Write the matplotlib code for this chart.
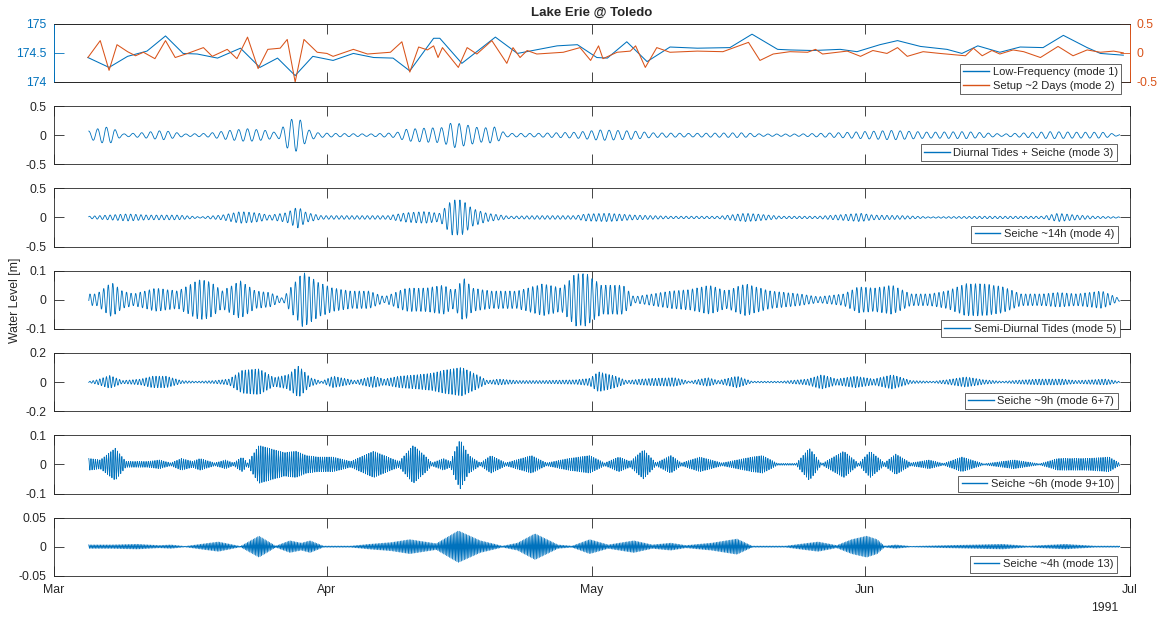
import numpy as np
import matplotlib
matplotlib.use("Agg")
import matplotlib.pyplot as plt

plt.rcParams['font.family'] = ['Liberation Sans', 'DejaVu Sans']
plt.rcParams['axes.unicode_minus'] = False

# ---------------- data (days after 1991-03-01) ----------------
START = np.datetime64('1991-03-01T00:00')
MONTH_TICKS = ['1991-03-01', '1991-04-01', '1991-05-01', '1991-06-01', '1991-07-01']
MONTH_LABELS = ['Mar', 'Apr', 'May', 'Jun', 'Jul']
YEAR_LABEL = '1991'

# Panel 1: low-frequency water level (left axis, m)
lf_days = [3.9, 6.3, 8.4, 10.6, 12.7, 14.7, 16.3, 18.6, 21.2, 23.4, 25.4, 27.4, 29.4, 31.7,
           34.0, 36.3, 38.5, 40.4, 43.1, 43.8, 46.3, 50.1, 52.6, 57.1, 59.4, 61.6, 62.8, 65.0,
           67.3, 69.9, 73.0, 76.7, 79.2, 82.1, 83.5, 86.1, 89.2, 91.1, 93.7, 95.7, 98.3, 101.3,
           103.0, 104.8, 107.3, 109.6, 112.2, 114.5, 117.2, 118.7, 121.3]
lf_vals = [174.42, 174.25, 174.44, 174.53, 174.79, 174.49, 174.48, 174.41, 174.58, 174.25,
           174.41, 174.11, 174.44, 174.37, 174.49, 174.42, 174.41, 174.19, 174.75, 174.75,
           174.32, 174.77, 174.49, 174.62, 174.64, 174.42, 174.41, 174.69, 174.35, 174.60,
           174.58, 174.59, 174.82, 174.56, 174.55, 174.54, 174.56, 174.52, 174.64, 174.71,
           174.61, 174.56, 174.49, 174.62, 174.51, 174.60, 174.59, 174.80, 174.59, 174.49,
           174.46]

# Panel 1: setup ~2 days (right axis, m)
setup_days = [3.9, 5.3, 6.3, 7.2, 8.4, 9.3, 10.2, 11.5, 12.7, 13.8, 15.2, 17.0, 18.0, 19.7,
              20.8, 22.0, 23.2, 24.3, 25.7, 26.5, 27.4, 28.4, 29.9, 31.0, 31.7, 34.0, 35.6,
              38.2, 39.5, 40.4, 41.4, 42.4, 43.1, 43.6, 44.1, 45.9, 46.9, 48.0, 49.7, 51.4,
              52.1, 52.9, 53.7, 54.8, 57.8, 59.7, 60.9, 61.8, 62.3, 63.9, 65.4, 66.0, 67.1,
              68.4, 69.9, 73.0, 75.9, 78.8, 80.1, 81.6, 83.5, 85.5, 86.4, 87.2, 90.0, 91.5,
              92.9, 94.5, 95.7, 96.8, 98.6, 100.5, 103.4, 104.3, 105.3, 106.4, 107.3, 108.8,
              110.0, 111.9, 113.9, 115.6, 117.2, 118.7, 120.2, 121.3]
setup_vals = [-0.08, 0.21, -0.30, 0.14, 0.02, -0.05, 0.01, -0.10, 0.21, -0.08, -0.01, 0.09,
              -0.06, 0.06, -0.10, 0.27, -0.27, 0.06, 0.08, 0.23, -0.50, 0.23, 0.01, -0.01,
              -0.06, 0.06, -0.02, 0.01, 0.19, -0.33, 0.10, 0.05, 0.12, -0.08, 0.09, -0.25,
              0.09, -0.02, 0.21, -0.18, 0.09, -0.08, 0.04, -0.02, 0.01, 0.09, -0.13, 0.12,
              -0.10, 0.01, 0.03, 0.12, -0.25, 0.09, 0.01, 0.03, 0.02, 0.18, -0.13, -0.02,
              0.02, 0.01, 0.06, -0.02, 0.03, -0.06, 0.04, -0.01, 0.09, -0.06, 0.02, -0.01,
              -0.05, 0.08, -0.05, 0.04, -0.02, 0.05, 0.02, -0.08, 0.11, -0.05, 0.05, 0.01,
              0.03, 0.00]

m3_days = [4.1, 5.7, 6.6, 7.8, 9.9, 12.4, 14.9, 17.4, 19.9, 22.0, 24.1, 25.4, 26.8, 27.9,
           28.7, 30.0, 31.7, 35.8, 38.8, 40.0, 42.1, 44.2, 45.2, 46.7, 48.4, 50.0, 51.3,
           54.6, 59.2, 62.1, 65.8, 67.9, 72.1, 77.9, 80.4, 84.6, 88.8, 91.7, 95.1, 99.3,
           103.4, 107.6, 113.1, 116.0, 118.9, 120.8]
m3_amp = [0.07, 0.14, 0.13, 0.02, 0.04, 0.08, 0.02, 0.03, 0.08, 0.11, 0.08, 0.04, 0.27,
          0.28, 0.10, 0.04, 0.03, 0.02, 0.04, 0.10, 0.12, 0.13, 0.22, 0.18, 0.12, 0.14, 0.03,
          0.03, 0.05, 0.09, 0.07, 0.04, 0.03, 0.04, 0.02, 0.02, 0.04, 0.06, 0.08, 0.05,
          0.06, 0.02, 0.06, 0.05, 0.05, 0.01]

m4_days = [4.1, 6.2, 8.4, 10.7, 14.1, 16.6, 19.1, 21.2, 22.9, 24.5, 26.4, 27.7, 28.7, 30.4,
           33.7, 37.9, 40.0, 42.1, 43.8, 45.2, 46.3, 47.5, 49.2, 51.7, 54.6, 59.2, 60.4,
           62.9, 65.8, 70.0, 75.4, 78.4, 79.6, 82.5, 86.7, 91.5, 93.0, 96.3, 99.3, 105.5,
           109.7, 112.2, 113.9, 116.0, 118.1, 120.8]
m4_amp = [0.02, 0.04, 0.06, 0.04, 0.04, 0.01, 0.04, 0.10, 0.08, 0.04, 0.08, 0.18, 0.08,
          0.03, 0.03, 0.03, 0.08, 0.10, 0.07, 0.30, 0.30, 0.15, 0.07, 0.02, 0.03, 0.03,
          0.06, 0.07, 0.04, 0.02, 0.02, 0.07, 0.06, 0.02, 0.02, 0.07, 0.04, 0.03, 0.01,
          0.02, 0.02, 0.02, 0.07, 0.04, 0.02, 0.01]

m5_days = [4.1, 4.9, 6.6, 7.8, 9.1, 11.6, 14.1, 16.6, 17.9, 19.1, 21.2, 22.9, 24.5, 26.0,
           27.1, 28.3, 30.0, 31.7, 33.7, 35.8, 37.5, 40.0, 42.1, 44.2, 45.4, 46.5, 47.5,
           49.6, 52.6, 55.5, 57.6, 59.2, 60.4, 62.1, 64.6, 65.8, 67.9, 70.0, 72.1, 74.4,
           76.3, 78.4, 81.3, 84.6, 86.7, 89.6, 91.3, 93.0, 95.1, 97.2, 99.3, 101.3, 103.4,
           105.5, 107.6, 109.7, 112.2, 113.9, 116.0, 118.9, 120.8]
m5_amp = [0.02, 0.02, 0.06, 0.03, 0.02, 0.04, 0.03, 0.07, 0.06, 0.03, 0.065, 0.03, 0.025,
          0.005, 0.05, 0.095, 0.06, 0.04, 0.03, 0.03, 0.01, 0.04, 0.04, 0.05, 0.03, 0.075,
          0.04, 0.03, 0.03, 0.055, 0.04, 0.09, 0.09, 0.05, 0.05, 0.01, 0.02, 0.03, 0.035,
          0.05, 0.03, 0.055, 0.03, 0.02, 0.01, 0.02, 0.045, 0.04, 0.05, 0.02, 0.02, 0.03,
          0.055, 0.055, 0.045, 0.02, 0.02, 0.025, 0.02, 0.03, 0.005]

m67_days = [4.1, 4.9, 6.4, 7.8, 9.9, 11.2, 12.8, 14.5, 16.2, 18.3, 19.9, 21.4, 23.3, 25.0,
            26.6, 27.8, 29.1, 30.4, 31.7, 34.2, 36.3, 37.5, 39.2, 41.3, 42.9, 44.2, 46.3,
            48.0, 49.2, 50.5, 52.6, 55.5, 59.2, 60.8, 61.8, 63.7, 65.0, 66.6, 67.9, 70.4,
            72.1, 74.2, 75.4, 77.5, 79.2, 82.5, 85.5, 87.1, 88.8, 90.9, 93.0, 95.1, 97.2,
            99.7, 101.3, 103.4, 105.5, 107.6, 110.1, 111.8, 114.3, 116.0, 119.3, 120.8]
m67_amp = [0.005, 0.015, 0.045, 0.01, 0.02, 0.04, 0.04, 0.01, 0.005, 0.01, 0.02, 0.08, 0.09,
           0.03, 0.05, 0.11, 0.03, 0.005, 0.04, 0.01, 0.04, 0.02, 0.04, 0.05, 0.06, 0.08,
           0.10, 0.05, 0.01, 0.02, 0.01, 0.01, 0.015, 0.025, 0.07, 0.04, 0.01, 0.02, 0.025,
           0.03, 0.005, 0.03, 0.01, 0.04, 0.005, 0.005, 0.02, 0.05, 0.02, 0.04, 0.02, 0.05,
           0.01, 0.005, 0.015, 0.035, 0.015, 0.005, 0.015, 0.02, 0.02, 0.01, 0.02, 0.005]

m910_days = [4.1, 5.3, 7.0, 8.2, 10.7, 12.0, 13.3, 14.5, 15.8, 16.6, 18.3, 19.5, 20.4, 21.4,
             22.0, 23.3, 25.0, 26.2, 27.5, 28.7, 30.0, 31.7, 33.7, 36.3, 38.3, 39.2, 40.8,
             42.1, 42.9, 44.2, 45.0, 46.1, 47.1, 48.4, 49.6, 51.3, 54.2, 55.9, 58.4, 60.8,
             62.5, 64.1, 65.4, 66.9, 68.3, 70.0, 71.2, 73.3, 75.8, 79.2, 80.4, 82.1, 84.2,
             85.7, 87.1, 89.6, 91.3, 92.6, 94.2, 95.5, 97.2, 99.3, 100.9, 103.0, 105.5,
             108.9, 111.8, 113.9, 117.2, 119.7, 120.8]
m910_amp = [0.02, 0.015, 0.055, 0.01, 0.01, 0.015, 0.005, 0.02, 0.01, 0.02, 0.005, 0.015,
            0.005, 0.025, 0.005, 0.065, 0.05, 0.04, 0.045, 0.03, 0.025, 0.025, 0.01, 0.045,
            0.02, 0.01, 0.065, 0.03, 0.005, 0.02, 0.01, 0.085, 0.03, 0.005, 0.03, 0.005,
            0.03, 0.005, 0.02, 0.03, 0.005, 0.025, 0.01, 0.05, 0.005, 0.03, 0.005, 0.025,
            0.005, 0.025, 0.03, 0.003, 0.003, 0.055, 0.002, 0.045, 0.003, 0.045, 0.005,
            0.035, 0.005, 0.015, 0.003, 0.025, 0.002, 0.015, 0.002, 0.02, 0.02, 0.025, 0.005]

m13_days = [4.1, 6.6, 9.5, 12.0, 13.3, 14.9, 18.7, 21.2, 23.3, 25.2, 26.8, 28.1, 29.1, 30.6,
            33.7, 35.8, 38.3, 40.4, 43.4, 45.9, 48.4, 50.9, 52.6, 54.6, 57.2, 58.8, 60.8,
            62.9, 65.8, 67.9, 70.0, 71.7, 74.6, 77.5, 79.2, 83.0, 86.7, 88.8, 90.5, 92.2,
            93.4, 94.2, 95.5, 97.2, 101.3, 107.6, 110.5, 114.7, 118.1, 120.6]
m13_amp = [0.003, 0.003, 0.004, 0.002, 0.003, 0.0005, 0.008, 0.0005, 0.018, 0.001, 0.01,
           0.006, 0.01, 0.001, 0.001, 0.004, 0.007, 0.012, 0.005, 0.027, 0.01, 0.001, 0.006,
           0.022, 0.003, 0.001, 0.012, 0.003, 0.01, 0.003, 0.006, 0.002, 0.006, 0.013, 0.001,
           0.001, 0.008, 0.002, 0.012, 0.018, 0.012, 0.001, 0.003, 0.0005, 0.002, 0.004,
           0.001, 0.004, 0.001, 0.001]

MODES = [
    ('Diurnal Tides + Seiche (mode 3)', m3_days, m3_amp, 24.0, 0.5, ['0.5', '0', '-0.5']),
    ('Seiche ~14h (mode 4)', m4_days, m4_amp, 14.0, 0.5, ['0.5', '0', '-0.5']),
    ('Semi-Diurnal Tides (mode 5)', m5_days, m5_amp, 12.42, 0.1, ['0.1', '0', '-0.1']),
    ('Seiche ~9h (mode 6+7)', m67_days, m67_amp, 9.0, 0.2, ['0.2', '0', '-0.2']),
    ('Seiche ~6h (mode 9+10)', m910_days, m910_amp, 6.0, 0.1, ['0.1', '0', '-0.1']),
    ('Seiche ~4h (mode 13)', m13_days, m13_amp, 4.0, 0.05, ['0.05', '0', '-0.05']),
]
# legend offsets in px: (inside from right, above bottom)
LEG_POS = [(8.5, -12), (12.5, 3.4), (11.8, 4), (10, -8), (11.8, 2), (11.8, 1.3), (12.5, 3.3)]

# ---------------- helpers ----------------
BLUE = '#0072BD'
ORANGE = '#D95319'
AXC = '#262626'
TICK_FS = 8.8
LEG_FS = 8
FIG_W, FIG_H = 1160, 617
AX_L, AX_W = 53.5, 1076.0
AX_T0, AX_H, AX_P = 23.7, 58.3, 82.3


def to_dt(days):
    return START + (np.asarray(days, dtype=float) * 86400).astype('timedelta64[s]')


def style(ax, right=True, bottom_labels=False):
    for s in ax.spines.values():
        s.set_color(AXC)
        s.set_linewidth(0.6)
    ax.set_xlim(np.datetime64(MONTH_TICKS[0]), np.datetime64(MONTH_TICKS[-1]))
    ax.set_xticks([np.datetime64(m) for m in MONTH_TICKS])
    if bottom_labels:
        ax.set_xticklabels(MONTH_LABELS)
    else:
        ax.set_xticklabels([])
    ax.tick_params(axis='x', direction='in', length=7, width=0.6, colors=AXC,
                   labelsize=TICK_FS, top=True, bottom=True, pad=6)
    ax.tick_params(axis='y', direction='in', length=7, width=0.6, colors=AXC,
                   labelsize=TICK_FS, left=True, right=right, pad=5)


def legend(ax, handles, labels, pos):
    r, b = pos
    leg = ax.legend(handles, labels, loc='lower right',
                    bbox_to_anchor=(1 - r / AX_W, b / AX_H), borderaxespad=0,
                    fontsize=LEG_FS, frameon=True, fancybox=False, framealpha=1,
                    edgecolor=AXC, borderpad=0.3, handlelength=2.3,
                    handletextpad=0.35, labelspacing=0.3)
    leg.get_frame().set_linewidth(0.5)
    for t in leg.get_texts():
        t.set_color(AXC)
    for ln in leg.get_lines():
        ln.set_linewidth(1.0)
    return leg


fig = plt.figure(figsize=(FIG_W / 100, FIG_H / 100), dpi=100)
axes = []
for i in range(7):
    top = AX_T0 + AX_P * i
    ax = fig.add_axes([AX_L / FIG_W, 1 - (top + AX_H) / FIG_H, AX_W / FIG_W, AX_H / FIG_H])
    axes.append(ax)

# ---- panel 1 ----
ax = axes[0]
ax2 = ax.twinx()
l1, = ax.plot(to_dt(lf_days), lf_vals, color=BLUE, lw=0.75)
l2, = ax2.plot(to_dt(setup_days), setup_vals, color=ORANGE, lw=0.75)
style(ax, right=False)
style(ax2, right=True)
ax2.tick_params(axis='y', left=False)
ax.set_ylim(174, 175)
ax.set_yticks([174, 174.5, 175])
ax.set_yticklabels(['174', '174.5', '175'])
ax2.set_ylim(-0.5, 0.5)
ax2.set_yticks([-0.5, 0, 0.5])
ax2.set_yticklabels(['-0.5', '0', '0.5'])
for a in (ax, ax2):
    a.spines['left'].set_color(BLUE)
    a.spines['right'].set_color(ORANGE)
ax.tick_params(axis='y', colors=BLUE)
ax2.tick_params(axis='y', colors=ORANGE)
legend(ax2, [l1, l2], ['Low-Frequency (mode 1)', 'Setup ~2 Days (mode 2)'], LEG_POS[0])

# ---- oscillating panels ----
t_hours = np.arange(4.0 * 24, 120.9 * 24, 1.0)
t_days = t_hours / 24.0
for k, (label, d, a, period, lim, ylabels) in enumerate(MODES):
    ax = axes[k + 1]
    env = np.interp(t_days, d, a)
    sig = env * np.cos(2 * np.pi * t_hours / period)
    ln, = ax.plot(to_dt(t_days), sig, color=BLUE, lw=0.6)
    style(ax, right=True, bottom_labels=(k == len(MODES) - 1))
    ax.set_ylim(-lim, lim)
    ax.set_yticks([lim, 0, -lim])
    ax.set_yticklabels(ylabels)
    legend(ax, [ln], [label], LEG_POS[k + 1])

axes[-1].text(1 - 11.5 / AX_W, -(608 - (AX_T0 + 6 * AX_P + AX_H)) / AX_H, YEAR_LABEL,
              transform=axes[-1].transAxes, ha='right', va='center', fontsize=TICK_FS,
              color=AXC)

fig.text(15 / FIG_W, 1 - 300 / FIG_H, 'Water Level [m]', rotation=90, ha='center',
         va='center', fontsize=TICK_FS, color=AXC)
fig.text((AX_L + AX_W / 2) / FIG_W, 1 - 13 / FIG_H, 'Lake Erie @ Toledo', ha='center',
         va='center', fontsize=9.5, fontweight='bold', color=AXC)

fig.savefig('out.png', dpi=100)
